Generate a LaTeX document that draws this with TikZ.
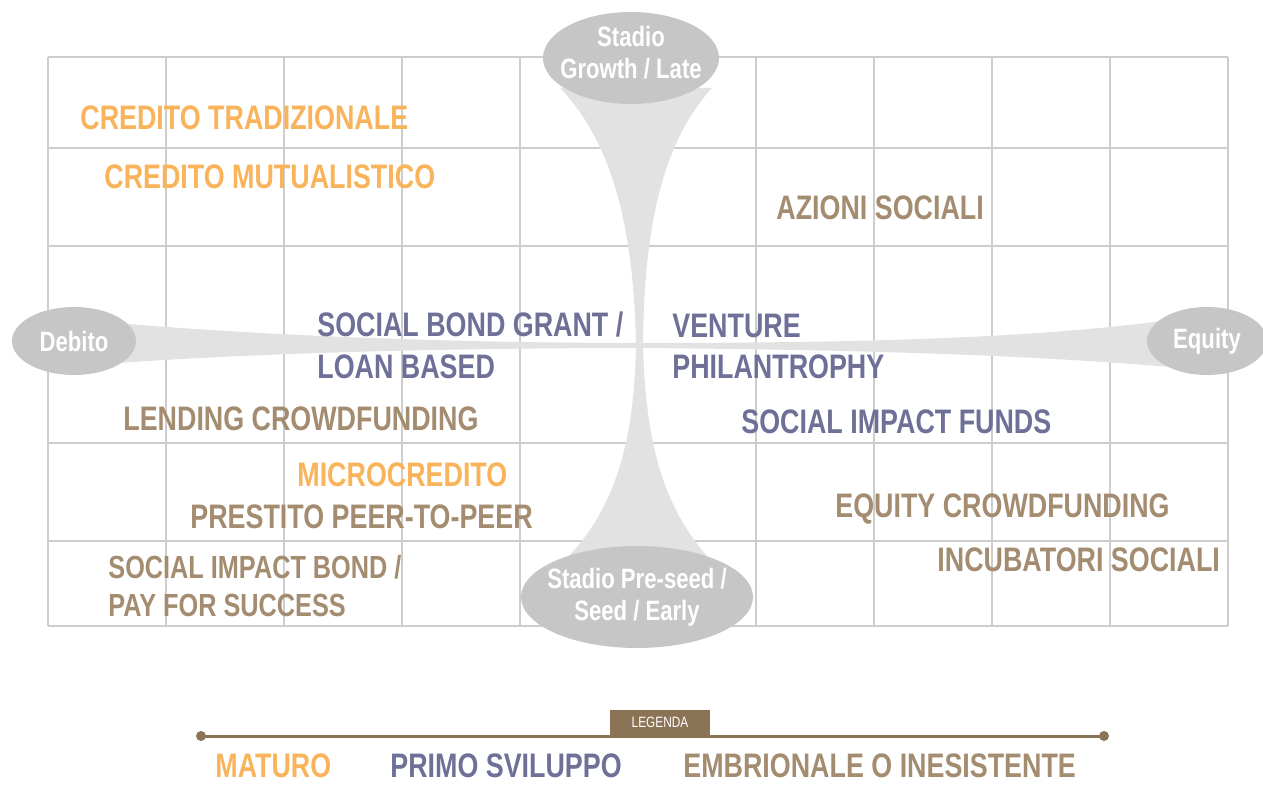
\documentclass[tikz,border=0pt]{standalone}
\usepackage{fontspec}
\setmainfont{Liberation Sans}[FakeStretch=0.79]
\usetikzlibrary{shapes.geometric}

\definecolor{colMaturo}{HTML}{F9B35A}
\definecolor{colPrimo}{HTML}{6E7098}
\definecolor{colEmbrionale}{HTML}{A38C70}
\definecolor{colEllisse}{HTML}{C6C6C6}
\definecolor{colBanda}{HTML}{E2E2E2}
\definecolor{colGriglia}{HTML}{CDCDCD}
\definecolor{colLegenda}{HTML}{8B7355}

\tikzset{
  voce/.style={anchor=base west, inner sep=0pt, font=\bfseries\fontsize{17}{20}\selectfont},
  maturo/.style={voce, text=colMaturo},
  primo/.style={voce, text=colPrimo},
  embrionale/.style={voce, text=colEmbrionale},
  stadio/.style={ellipse, fill=colEllisse, inner sep=0pt},
  stadio testo/.style={text=white, inner sep=0pt, align=center,
    font=\bfseries\fontsize{14}{16}\selectfont},
  griglia/.style={draw=colGriglia, line width=0.75pt},
  banda/.style={fill=colBanda},
}

\begin{document}
\begin{tikzpicture}[x=0.5pt, y=-0.5pt]
\useasboundingbox (0,0) rectangle (1263,785);

% griglia
\foreach \gx in {0,...,10}
  \draw[griglia] (48+118*\gx,57) -- (48+118*\gx,626);
\foreach \gy in {57,148,246,443,541,626}
  \draw[griglia] (48,\gy) -- (1228,\gy);

% bande
\fill[banda] (105,322) .. controls (250,335) and (450,343) .. (640,343)
  .. controls (900,343) and (1050,336) .. (1170,320)
  -- (1170,367) .. controls (1050,357) and (900,350) .. (640,348)
  .. controls (450,348) and (250,353) .. (105,364) -- cycle;
\fill[banda] (560,88) .. controls (620,150) and (634,250) .. (636,345)
  .. controls (634,450) and (612,515) .. (560,565)
  -- (715,565) .. controls (665,512) and (646,450) .. (643,345)
  .. controls (644,250) and (655,150) .. (712,88) -- cycle;

% stadi
\node[stadio, minimum width=88pt, minimum height=46pt] (late) at (631,58) {};
\node[stadio testo] (late txt) at (631,53) {Stadio\\Growth / Late};
\node[stadio, minimum width=116pt, minimum height=51pt] (early) at (637,597) {};
\node[stadio testo] (early txt) at (early) {Stadio Pre-seed /\\Seed / Early};
\node[stadio, minimum width=62pt, minimum height=34pt] (debito) at (74,341) {};
\node[stadio testo] (debito txt) at (debito) {Debito};
\node[stadio, minimum width=60pt, minimum height=34pt] (equity) at (1207,341) {};
\node[stadio testo] (equity txt) at (equity) {Equity};

% strumenti
\node[maturo] (tradizionale) at (80,130) {CREDITO TRADIZIONALE};
\node[maturo] (mutualistico) at (104,189) {CREDITO MUTUALISTICO};
\node[embrionale] (azioni) at (776,220) {AZIONI SOCIALI};
\node[primo] (bond1) at (317,337) {SOCIAL BOND GRANT /};
\node[primo] (bond2) at (317,379) {LOAN BASED};
\node[primo] (venture1) at (672,338) {VENTURE};
\node[primo] (venture2) at (672,379) {PHILANTROPHY};
\node[embrionale] (lending) at (123,431) {LENDING CROWDFUNDING};
\node[primo] (funds) at (741,434) {SOCIAL IMPACT FUNDS};
\node[maturo] (micro) at (297,487) {MICROCREDITO};
\node[embrionale] (p2p) at (190,529) {PRESTITO PEER-TO-PEER};
\node[embrionale] (equitycf) at (835,518) {EQUITY CROWDFUNDING};
\node[embrionale] (incubatori) at (937,572) {INCUBATORI SOCIALI};
\node[embrionale, font=\bfseries\fontsize{16}{19}\selectfont] (sib1) at (108,578) {SOCIAL IMPACT BOND /};
\node[embrionale, font=\bfseries\fontsize{16}{19}\selectfont] (sib2) at (108,617) {PAY FOR SUCCESS};

% legenda
\coordinate (leg sx) at (201,736);
\coordinate (leg dx) at (1104,736);
\draw[colLegenda, line width=1.5pt] (leg sx) -- (leg dx);
\fill[colLegenda] (leg sx) circle (2.5pt) (leg dx) circle (2.5pt);
\node[fill=colLegenda, text=white, anchor=south, minimum width=50pt, minimum height=13pt,
  inner sep=0pt, font=\fontsize{7.5}{9}\selectfont] (legenda) at (660,736) {LEGENDA};
\node[maturo] (leg maturo) at (215,777) {MATURO};
\node[primo] (leg primo) at (390,777) {PRIMO SVILUPPO};
\node[embrionale] (leg embrionale) at (683,777) {EMBRIONALE O INESISTENTE};
\end{tikzpicture}
\end{document}
